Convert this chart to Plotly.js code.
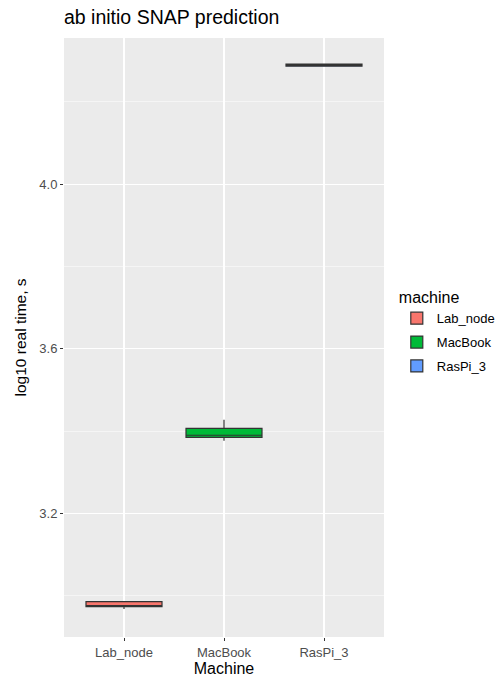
<!DOCTYPE html>
<html>
<head>
<meta charset="utf-8">
<script src="https://cdn.plot.ly/plotly-3.0.1.min.js"></script>
<style>html,body{margin:0;padding:0;background:#fff;}#chart{width:499px;height:679px;}</style>
</head>
<body>
<div id="chart"></div>
<script>
// Data (log10 real time, s)
const machines = ["Lab_node", "MacBook", "RasPi_3"];
const lowerWhisker = [2.968, 3.377, 4.2865];
const q1Values = [2.974, 3.385, 4.2865];
const medianValues = [2.974, 3.390, 4.289];
const q3Values = [2.986, 3.407, 4.2915];
const upperWhisker = [2.986, 3.4275, 4.2915];
const fillColors = ["#F8766D", "#00BA38", "#619CFF"];
const yTickVals = [3.2, 3.6, 4.0];
const yTickText = ["3.2", "3.6", "4.0"];

const traces = machines.map((m, i) => ({
  type: "box",
  name: m,
  legendgroup: m,
  x: [m],
  lowerfence: [lowerWhisker[i]],
  q1: [q1Values[i]],
  median: [medianValues[i]],
  q3: [q3Values[i]],
  upperfence: [upperWhisker[i]],
  width: 0.76,
  fillcolor: fillColors[i],
  line: { color: "#333333", width: 1.2 },
  whiskerwidth: 0,
  hoverinfo: "skip"
}));

const layout = {
  width: 499,
  height: 679,
  margin: { l: 64, r: 115, t: 38, b: 42, autoexpand: false },
  paper_bgcolor: "#ffffff",
  plot_bgcolor: "#EBEBEB",
  font: { family: "Liberation Sans, Arial, sans-serif", color: "#000000" },
  title: {
    text: "ab initio SNAP prediction",
    font: { size: 19.5, color: "#000000" },
    x: 0, xref: "paper", xanchor: "left",
    y: 1 - 17 / 679, yref: "container", yanchor: "middle"
  },
  boxmode: "overlay",
  showlegend: true,
  legend: {
    title: { text: "machine", font: { size: 16, color: "#000000" } },
    x: 1.04, xanchor: "left",
    y: 0.592, yanchor: "top",
    font: { size: 13, color: "#000000" },
    bgcolor: "rgba(0,0,0,0)",
    tracegroupgap: 4
  },
  xaxis: {
    type: "category",
    categoryorder: "array",
    categoryarray: machines,
    range: [-0.6, 2.6],
    showgrid: true,
    gridcolor: "#ffffff",
    gridwidth: 1.1,
    zeroline: false,
    showline: false,
    ticks: "outside",
    ticklen: 3,
    tickwidth: 1,
    tickcolor: "#333333",
    tickfont: { size: 13, color: "#4D4D4D" },
    title: { text: "Machine", font: { size: 16, color: "#000000" }, standoff: 2 }
  },
  yaxis: {
    range: [2.900, 4.355],
    tickvals: yTickVals,
    ticktext: yTickText,
    showgrid: true,
    gridcolor: "#ffffff",
    gridwidth: 1.1,
    minor: { dtick: 0.2, tick0: 3.0, showgrid: true, gridcolor: "#ffffff", gridwidth: 0.5, ticks: "" },
    zeroline: false,
    showline: false,
    ticks: "outside",
    ticklen: 3,
    tickwidth: 1,
    tickcolor: "#333333",
    tickfont: { size: 13, color: "#4D4D4D" },
    title: { text: "log10 real time, s", font: { size: 15.5, color: "#000000" }, standoff: 8 }
  }
};

Plotly.newPlot("chart", traces, layout, { displayModeBar: false, staticPlot: true });
</script>
</body>
</html>
